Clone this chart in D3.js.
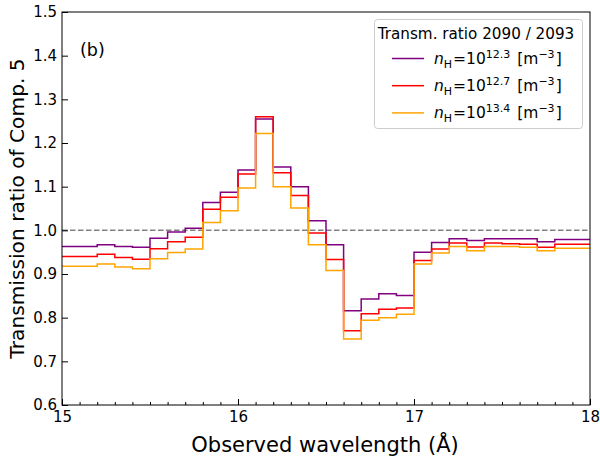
<!DOCTYPE html>
<html><head><meta charset="utf-8">
<script src="https://cdn.jsdelivr.net/npm/d3@7"></script>
<style>body{margin:0;background:#fff}svg{display:block;font-family:"DejaVu Sans",sans-serif}</style>
</head><body><svg id="c" width="600" height="462"></svg>
<script>
// bin left edges (Å), bins of 0.1 Å from 15.0 to 18.0
const binStarts = d3.range(30).map(i => +(15 + i * 0.1).toFixed(1));
const nh123 = [0.963,0.963,0.967,0.963,0.961,0.982,0.996,1.005,1.064,1.087,1.138,1.255,1.145,1.100,1.022,0.967,0.816,0.843,0.855,0.851,0.950,0.972,0.981,0.977,0.981,0.981,0.981,0.974,0.979,0.979];
const nh127 = [0.940,0.940,0.945,0.938,0.934,0.958,0.974,0.984,1.048,1.076,1.129,1.260,1.132,1.080,0.994,0.933,0.770,0.809,0.819,0.822,0.931,0.957,0.971,0.962,0.971,0.969,0.968,0.961,0.968,0.968];
const nh134 = [0.918,0.918,0.923,0.916,0.912,0.935,0.949,0.957,1.018,1.045,1.097,1.222,1.100,1.051,0.967,0.908,0.751,0.794,0.800,0.808,0.923,0.948,0.963,0.953,0.963,0.963,0.961,0.953,0.959,0.959];
const seriesNames = ["12.3","12.7","13.4"];
const seriesColors = ["#800080","#ff0000","#ffa500"];
const xTicks = [15,16,17,18];
const yTicks = [0.6,0.7,0.8,0.9,1.0,1.1,1.2,1.3,1.4,1.5];
const legendTitle = "Transm. ratio 2090 / 2093";

const svg = d3.select("#c");
const L=62, R=590, T=12, B=405;
const x = d3.scaleLinear().domain([15,18]).range([L,R]);
const y = d3.scaleLinear().domain([0.6,1.5]).range([B,T]);

// dashed reference
svg.append("line").attr("x1",L).attr("x2",R).attr("y1",y(1)).attr("y2",y(1))
  .attr("stroke","#808080").attr("stroke-width",1.5).attr("stroke-dasharray","5.5,2.5");

const line = d3.line().x(d=>x(d[0])).y(d=>y(d[1])).curve(d3.curveStepAfter);
[nh123,nh127,nh134].forEach((vals,i)=>{
  const pts = binStarts.map((b,j)=>[b,vals[j]]);
  pts.push([18, vals[vals.length-1]]);
  svg.append("path").datum(pts).attr("d",line).attr("fill","none")
    .attr("stroke",seriesColors[i]).attr("stroke-width",1.5);
});

// frame
svg.append("rect").attr("x",L).attr("y",T).attr("width",R-L).attr("height",B-T)
  .attr("fill","none").attr("stroke","#000").attr("stroke-width",1);

// x axis ticks (inward)
const xa = svg.append("g").attr("transform",`translate(0,${B})`)
  .call(d3.axisBottom(x).tickValues(xTicks).tickFormat(d3.format("d")).tickSizeInner(-6).tickSizeOuter(0));
xa.select(".domain").remove();
xa.selectAll("text").attr("y",6).attr("dy","0.71em").attr("font-size",15).attr("font-family","DejaVu Sans").attr("fill","#000");
const xm = svg.append("g").attr("transform",`translate(0,${B})`)
  .call(d3.axisBottom(x).tickValues(d3.range(15,18.001,0.1).map(v=>+v.toFixed(1)).filter(v=>!xTicks.includes(v))).tickFormat("").tickSizeInner(-3).tickSizeOuter(0));
xm.select(".domain").remove();

const ya = svg.append("g").attr("transform",`translate(${L},0)`)
  .call(d3.axisLeft(y).tickValues(yTicks).tickFormat(d3.format(".1f")).tickSizeInner(-6).tickSizeOuter(0));
ya.select(".domain").remove();
ya.selectAll("text").attr("x",-5).attr("font-size",15).attr("font-family","DejaVu Sans").attr("fill","#000");

// labels
svg.append("text").attr("x",325).attr("y",452).attr("text-anchor","middle")
  .attr("font-size",21).text("Observed wavelength (Å)");
svg.append("text").attr("transform",`translate(24,${(T+B)/2}) rotate(-90)`).attr("text-anchor","middle")
  .attr("font-size",20.2).text("Transmission ratio of Comp. 5");
svg.append("text").attr("x",80).attr("y",56).attr("font-size",17.5).text("(b)");

// legend
const lg = svg.append("g");
lg.append("rect").attr("x",374.5).attr("y",19.5).attr("width",208).attr("height",109).attr("rx",3)
  .attr("fill","#fff").attr("fill-opacity",0.8).attr("stroke","#ccc");
lg.append("text").attr("x",476).attr("y",38.5).attr("text-anchor","middle").attr("font-size",15.2).text(legendTitle);
seriesNames.forEach((n,i)=>{
  const yy = 58.5 + i*27.2;
  lg.append("line").attr("x1",392).attr("x2",424).attr("y1",yy).attr("y2",yy)
    .attr("stroke",seriesColors[i]).attr("stroke-width",1.5);
  const t = lg.append("text").attr("x",434).attr("y",yy+5).attr("font-size",15.5);
  t.append("tspan").attr("font-style","italic").text("n");
  t.append("tspan").attr("font-size",11).attr("dy",4).text("H");
  t.append("tspan").attr("dy",-4).attr("dx",1).text("=10");
  t.append("tspan").attr("font-size",11).attr("dy",-6).text(n);
  t.append("tspan").attr("dy",6).attr("dx",2).text(" [m");
  t.append("tspan").attr("font-size",11).attr("dy",-6).text("−3");
  t.append("tspan").attr("dy",6).attr("dx",1).text("]");
});
</script></body></html>
